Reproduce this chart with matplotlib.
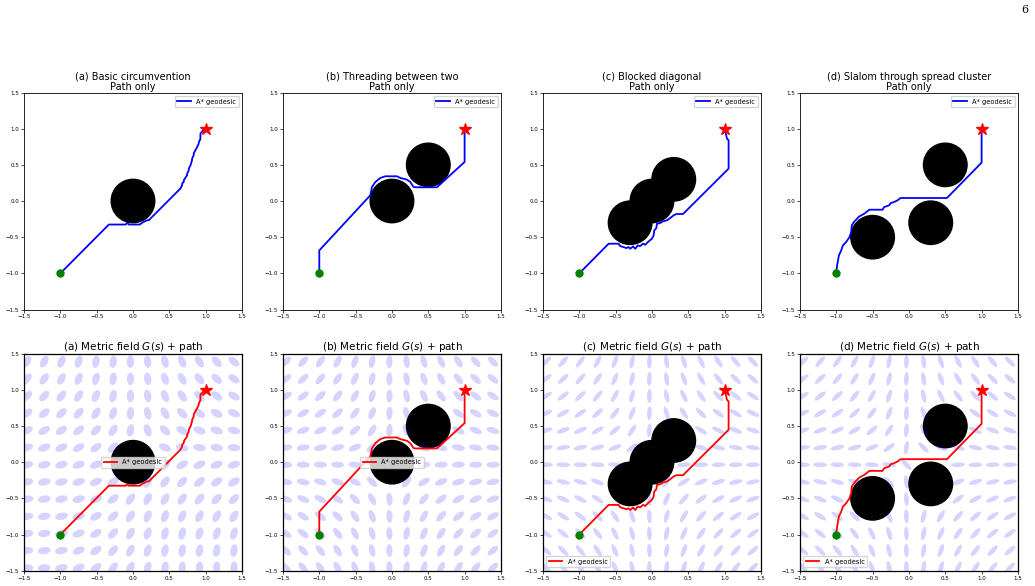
import numpy as np
import matplotlib
matplotlib.use("Agg")
import matplotlib.pyplot as plt
from matplotlib.patches import Circle, Ellipse

# scenario setup
titles = ["(a) Basic circumvention", "(b) Threading between two",
          "(c) Blocked diagonal", "(d) Slalom through spread cluster"]
letters = ["a", "b", "c", "d"]
start = (-1.0, -1.0)
goal = (1.0, 1.0)
radius = 0.3
obstacles = [
    [(0.0, 0.0)],
    [(0.0, 0.0), (0.5, 0.5)],
    [(-0.3, -0.3), (0.0, 0.0), (0.3, 0.3)],
    [(-0.5, -0.5), (0.3, -0.3), (0.5, 0.5)],
]

# A* geodesic paths
path_a_x = [-1.0, -0.332, -0.10, -0.08, -0.057, 0.094, 0.126, 0.195, 0.218, 0.653,
            0.676, 0.676, 0.70, 0.70, 0.72, 0.745, 0.745, 0.768, 0.768, 0.79, 0.813,
            0.813, 0.836, 0.836, 0.859, 0.88, 0.905, 0.905, 0.928, 0.928, 0.95, 1.0]
path_a_y = [-1.0, -0.325, -0.325, -0.30, -0.325, -0.325, -0.30, -0.265, -0.265, 0.173,
            0.219, 0.24, 0.27, 0.29, 0.32, 0.357, 0.38, 0.426, 0.45, 0.49, 0.565,
            0.585, 0.634, 0.66, 0.703, 0.74, 0.795, 0.81, 0.86, 0.933, 0.96, 1.0]
path_b_x = [-1.0, -1.0, -0.298, -0.275, -0.229, -0.16, -0.092, 0.069, 0.115, 0.206,
            0.252, 0.298, 0.321, 0.619, 1.0, 1.0]
path_b_y = [-1.0, -0.683, 0.079, 0.194, 0.263, 0.319, 0.342, 0.342, 0.319, 0.296,
            0.263, 0.194, 0.19, 0.19, 0.54, 1.0]
path_c_x = [-1.0, -0.596, -0.459, -0.436, -0.39, -0.353, -0.321, -0.298, -0.261, -0.229,
            -0.197, -0.161, -0.124, -0.092, -0.046, 0.0, 0.023, 0.032, 0.06, 0.069,
            0.115, 0.151, 0.206, 0.252, 0.298, 0.335, 0.427, 1.055, 1.055, 1.032,
            1.023, 1.0]
path_c_y = [-1.0, -0.59, -0.59, -0.623, -0.637, -0.65, -0.637, -0.66, -0.627, -0.66,
            -0.614, -0.623, -0.59, -0.604, -0.558, -0.521, -0.475, -0.406, -0.374, -0.314,
            -0.304, -0.281, -0.267, -0.235, -0.198, -0.18, -0.18, 0.448, 0.84, 0.863,
            0.91, 1.0]
path_d_x = [-1.0, -0.99, -0.964, -0.932, -0.909, -0.864, -0.818, -0.795, -0.786, -0.75,
            -0.682, -0.614, -0.545, -0.364, -0.341, -0.273, -0.25, -0.205, -0.159,
            -0.114, 0.523, 1.0, 1.0]
path_d_y = [-1.0, -0.9, -0.752, -0.683, -0.614, -0.567, -0.498, -0.429, -0.337, -0.281,
            -0.212, -0.175, -0.12, -0.12, -0.083, -0.06, -0.028, -0.014, 0.009,
            0.042, 0.042, 0.531, 1.0]
paths = [(path_a_x, path_a_y), (path_b_x, path_b_y),
         (path_c_x, path_c_y), (path_d_x, path_d_y)]

# metric field glyph grid
grid_x = [-1.46, -1.222, -0.985, -0.748, -0.51, -0.273, -0.035, 0.202, 0.44, 0.677,
          0.915, 1.152, 1.39]
grid_y = grid_x
# major-axis orientation of each glyph (degrees), rows from top (y=1.39) to bottom
angles_a = [
    [60, 63, 67, 72, 78, 84, 90, 97, 105, 114, 123, 132, 140],
    [52, 55, 60, 66, 73, 81, 90, 99, 109, 119, 129, 138, 145],
    [44, 47, 52, 58, 66, 77, 88, 100, 113, 126, 136, 144, 150],
    [36, 39, 43, 49, 57, 69, 85, 103, 120, 134, 145, 152, 157],
    [28, 30, 34, 39, 46, 58, 78, 108, 135, 150, 158, 163, 166],
    [20, 22, 25, 29, 35, 45, 70, 125, 155, 165, 170, 173, 175],
    [12, 13, 15, 18, 22, 30, 45, 50, 40, 30, 25, 20, 18],
    [10, 11, 13, 16, 22, 32, 50, 60, 55, 45, 40, 35, 32],
    [8, 10, 12, 16, 24, 36, 55, 65, 62, 55, 50, 47, 45],
    [7, 9, 12, 18, 28, 42, 58, 68, 70, 66, 62, 60, 58],
    [6, 8, 12, 20, 32, 46, 60, 70, 75, 74, 72, 70, 70],
    [5, 7, 12, 22, 35, 50, 62, 72, 78, 80, 80, 80, 80],
    [4, 6, 12, 24, 38, 52, 64, 74, 80, 84, 86, 87, 88],
]
angles_bcd = [
    [44, 49, 55, 62, 70, 79, 89, 98, 108, 116, 123, 130, 135],
    [38, 43, 50, 57, 66, 77, 88, 100, 111, 120, 128, 135, 140],
    [32, 37, 43, 51, 61, 73, 88, 102, 116, 127, 135, 141, 147],
    [25, 29, 35, 42, 53, 68, 87, 107, 123, 135, 144, 150, 154],
    [17, 20, 24, 30, 41, 58, 85, 115, 135, 147, 154, 159, 162],
    [8, 9, 12, 15, 22, 37, 80, 135, 155, 163, 168, 170, 172],
    [179, 178, 178, 177, 176, 173, 135, 10, 5, 3, 2, 2, 1],
    [169, 167, 164, 160, 152, 135, 97, 53, 32, 22, 17, 13, 11],
    [161, 157, 153, 146, 135, 118, 94, 68, 49, 37, 29, 24, 20],
    [153, 148, 143, 135, 124, 110, 93, 75, 60, 48, 39, 33, 28],
    [146, 141, 135, 127, 117, 105, 92, 78, 66, 55, 47, 40, 35],
    [140, 135, 129, 121, 113, 103, 92, 81, 70, 61, 53, 47, 41],
    [135, 130, 124, 117, 109, 101, 91, 82, 73, 65, 58, 52, 46],
]
field_angles = [angles_a, angles_bcd, angles_bcd, angles_bcd]
glyph_major = [0.175, 0.18, 0.19, 0.19]
glyph_minor = [0.10, 0.085, 0.065, 0.065]

legend_loc_bottom = ["center", "center", "lower left", "lower left"]

fig = plt.figure(figsize=(10.35, 5.86), dpi=100)
lefts = [0.0232, 0.2734, 0.5246, 0.7729]
w, h = 0.2106, 0.3703


def decorate(ax):
    ax.set_xlim(-1.5, 1.5)
    ax.set_ylim(-1.5, 1.5)
    ax.set_xticks(np.arange(-1.5, 1.51, 0.5))
    ax.set_yticks(np.arange(-1.5, 1.51, 0.5))
    ax.tick_params(labelsize=4, length=2, width=0.5, pad=1.5)


for i in range(4):
    obs = obstacles[i]
    px, py = paths[i]

    # top row: path only
    ax = fig.add_axes([lefts[i], 0.4718, w, h])
    for c in obs:
        ax.add_patch(Circle(c, radius, color="black", zorder=2))
    ax.plot(px, py, color="blue", lw=1.3, label="A* geodesic", zorder=3)
    ax.plot(*start, "o", color="green", ms=5, zorder=4)
    ax.plot(*goal, "*", color="red", ms=9, zorder=4)
    decorate(ax)
    for s in ax.spines.values():
        s.set_linewidth(0.6)
    ax.set_title(titles[i] + "\nPath only", fontsize=7, pad=2, linespacing=1.0)
    ax.legend(loc="upper right", fontsize=4.8)

    # bottom row: metric field + path
    ax = fig.add_axes([lefts[i], 0.0261, w, h])
    for c in obs:
        ax.add_patch(Circle(c, radius, color="black", zorder=1))
    for r, gy in enumerate(grid_y[::-1]):
        for k, gx in enumerate(grid_x):
            inside = any((gx - cx) ** 2 + (gy - cy) ** 2 < radius ** 2 for cx, cy in obs)
            mn = 0.006 if inside else glyph_minor[i]
            ax.add_patch(Ellipse((gx, gy), glyph_major[i], mn, angle=field_angles[i][r][k],
                                 facecolor="blue", edgecolor="none", alpha=0.17, zorder=2))
    ax.plot(px, py, color="red", lw=1.3, label="A* geodesic", zorder=3)
    ax.plot(*start, "o", color="green", ms=5, zorder=4)
    ax.plot(*goal, "*", color="red", ms=9, zorder=4)
    decorate(ax)
    for s in ax.spines.values():
        s.set_linewidth(0.9)
    ax.set_title("(%s) Metric field $G(s)$ + path" % letters[i], fontsize=7.5, pad=2)
    ax.legend(loc=legend_loc_bottom[i], fontsize=4.8)

fig.text(0.9903, 0.983, "6", fontsize=8, family="DejaVu Serif", ha="center", va="center")

fig.savefig("out.png", dpi=100)
